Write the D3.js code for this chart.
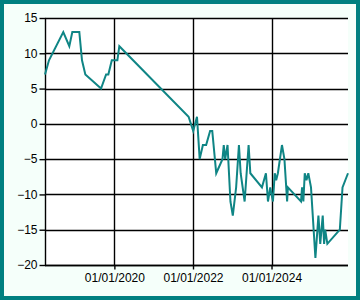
<!DOCTYPE html>
<html>
<head>
<meta charset="utf-8">
<script src="https://cdn.jsdelivr.net/npm/d3@7"></script>
<style>
  html, body { margin: 0; padding: 0; background: #F5FFFA; }
  svg { display: block; }
  text { font-family: "Liberation Sans", Arial, sans-serif; font-size: 12px; fill: #000; }
</style>
</head>
<body>
<svg id="chart" width="360" height="300"></svg>
<script>
const dates = ["2018-03-27","2018-05-03","2018-09-13","2018-11-08","2018-12-06","2019-02-09","2019-03-06","2019-04-06","2019-08-30","2019-10-16","2019-11-06","2019-12-08","2020-01-29","2020-02-16","2021-11-21","2022-01-03","2022-02-07","2022-03-04","2022-04-03","2022-05-03","2022-06-09","2022-06-29","2022-08-05","2022-10-02","2022-10-14","2022-10-27","2022-11-18","2022-12-15","2023-01-06","2023-02-06","2023-03-04","2023-03-20","2023-04-26","2023-06-02","2023-06-18","2023-10-04","2023-11-10","2023-11-29","2023-12-20","2024-01-14","2024-01-31","2024-02-13","2024-02-29","2024-04-07","2024-04-30","2024-05-25","2024-06-01","2024-10-01","2024-10-11","2024-10-23","2024-11-05","2024-11-21","2024-12-08","2025-01-02","2025-02-12","2025-03-12","2025-03-29","2025-04-21","2025-05-04","2025-05-14","2025-06-03","2025-09-27","2025-10-22","2025-12-12"];
const values = [7,9,13,11,13,13,9,7,5,7,7,9,9,11,1,-1,1,-5,-3,-3,-1,-1,-7,-5,-3,-5,-3,-11,-13,-9,-3,-7,-11,-3,-7,-9,-7,-11,-9,-11,-7,-8,-7,-3,-5,-11,-9,-11,-9,-11,-7,-8,-7,-9,-19,-13,-17,-13,-17,-15,-17,-15,-9,-7];
const xTickDates = ["2020-01-01","2022-01-01","2024-01-01"];
const yTicks = [-20,-15,-10,-5,0,5,10,15];

(function () {
const parse = d3.utcParse("%Y-%m-%d");
const data = dates.map((d, i) => ({ date: parse(d), value: values[i] }));

const W = 360, H = 300;
const pl = 45, pr = 348, pt = 18, pb = 265;

const svg = d3.select("#chart");

// outer teal frame
svg.append("rect").attr("x", 2).attr("y", 2).attr("width", W - 4).attr("height", H - 4)
  .attr("fill", "#F5FFFA").attr("stroke", "#008080").attr("stroke-width", 4);

const x = d3.scaleUtc().domain(d3.extent(data, d => d.date)).range([pl, pr]);
const y = d3.scaleLinear().domain([-20, 15]).range([pb, pt]);

// plot area
svg.append("rect").attr("x", pl).attr("y", pt).attr("width", pr - pl).attr("height", pb - pt)
  .attr("fill", "#ffffff");

// horizontal grid
svg.append("g").selectAll("line").data(yTicks).join("line")
  .attr("x1", pl).attr("x2", pr)
  .attr("y1", d => Math.round(y(d)) + 0.5).attr("y2", d => Math.round(y(d)) + 0.5)
  .attr("stroke", "#000").attr("stroke-width", 1.4);

// vertical grid
svg.append("g").selectAll("line").data(xTickDates).join("line")
  .attr("x1", d => Math.round(x(parse(d))) + 0.5).attr("x2", d => Math.round(x(parse(d))) + 0.5)
  .attr("y1", pt).attr("y2", pb)
  .attr("stroke", "#000").attr("stroke-width", 1.4);

// y axis
const yAxis = d3.axisLeft(y).tickValues(yTicks).tickSize(6).tickPadding(2).tickFormat(d3.format("d"));
const gy = svg.append("g").attr("transform", `translate(${pl + 0.5},0)`).call(yAxis);
gy.select(".domain").attr("stroke", "#000").attr("stroke-width", 1.4).attr("d", `M0,${pt}V${pb}`);
gy.selectAll(".tick line").attr("stroke", "#000").attr("stroke-width", 1.4);
gy.selectAll(".tick text").style("font-size", "12px").attr("fill", "#000")
  .style("font-family", "'Liberation Sans', Arial, sans-serif");

// x axis
const xAxis = d3.axisBottom(x).tickValues(xTickDates.map(parse)).tickSize(4).tickPadding(3.5)
  .tickFormat(d3.utcFormat("%d/%m/%Y"));
const gx = svg.append("g").attr("transform", `translate(0,${pb + 0.5})`).call(xAxis);
gx.select(".domain").attr("stroke", "#000").attr("stroke-width", 1.4).attr("d", `M${pl},0H${pr}`);
gx.selectAll(".tick line").attr("stroke", "#000").attr("stroke-width", 1.4);
gx.selectAll(".tick text").style("font-size", "12px").attr("fill", "#000")
  .style("font-family", "'Liberation Sans', Arial, sans-serif");

// series line
const line = d3.line().x(d => x(d.date)).y(d => y(d.value));
svg.append("path").datum(data)
  .attr("d", line)
  .attr("fill", "none")
  .attr("stroke", "#0F8585")
  .attr("stroke-width", 2)
  .attr("stroke-linejoin", "miter")
  .attr("stroke-miterlimit", 4);
})();
</script>
</body>
</html>
